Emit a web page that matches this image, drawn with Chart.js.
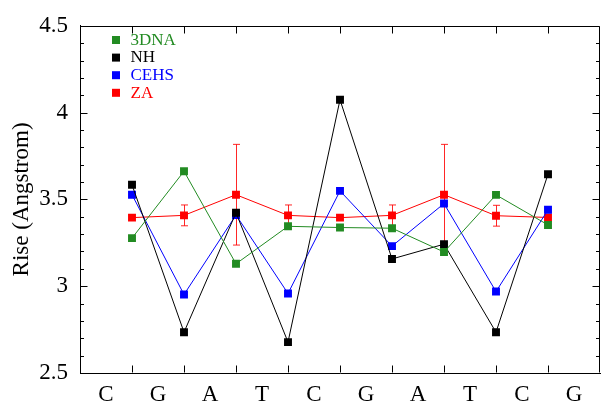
<!DOCTYPE html>
<html>
<head>
<meta charset="utf-8">
<script src="https://cdn.jsdelivr.net/npm/chart.js@4.4.1/dist/chart.umd.min.js"></script>
<style>
  html, body { margin: 0; padding: 0; background: #fff; overflow: hidden; }
  #wrap { width: 608px; height: 403px; }
</style>
</head>
<body>
<div id="wrap"><canvas id="c" width="608" height="403"></canvas></div>
<script>
// Bases along the sequence (tick labels sit between the step positions)
const bases = ['C', 'G', 'A', 'T', 'C', 'G', 'A', 'T', 'C', 'G'];
// Base-pair step positions (step k lies between base k and base k+1)
const steps = [1, 2, 3, 4, 5, 6, 7, 8, 9];
// Rise per step, in Angstrom
const rise3DNA = [3.277, 3.662, 3.129, 3.345, 3.338, 3.334, 3.197, 3.526, 3.353];
const riseNH   = [3.584, 2.735, 3.423, 2.678, 4.074, 3.157, 3.242, 2.735, 3.645];
const riseCEHS = [3.527, 2.952, 3.410, 2.958, 3.549, 3.231, 3.476, 2.969, 3.440];
const riseZA   = [3.395, 3.408, 3.527, 3.408, 3.395, 3.408, 3.527, 3.406, 3.396];
const errZA    = [0.0, 0.06, 0.29, 0.06, 0.0, 0.06, 0.29, 0.06, 0.0];
// Y axis tick labels
const yTickValues = [2.5, 3, 3.5, 4, 4.5];
const yTickLabels = ['2.5', '3', '3.5', '4', '4.5'];

const SERIF = "'Liberation Serif', 'DejaVu Serif', serif";

function pts(arr) { return arr.map((v, i) => ({ x: steps[i], y: v })); }

function series(label, values, color) {
  return {
    label: label,
    data: pts(values),
    borderColor: color,
    backgroundColor: color,
    borderWidth: 1,
    tension: 0,
    pointStyle: 'rect',
    pointRadius: 5.6,
    pointBorderWidth: 0,
    pointBackgroundColor: color,
    pointHoverRadius: 5.6
  };
}

// Vertical error bars with caps for the ZA series
const errorBars = {
  id: 'errorBars',
  beforeDatasetsDraw(chart) {
    const { ctx, scales: { x, y } } = chart;
    ctx.save();
    ctx.strokeStyle = 'rgba(255,0,0,0.85)';
    ctx.lineWidth = 1;
    riseZA.forEach((v, i) => {
      const e = errZA[i];
      if (!e) return;
      const px = Math.round(x.getPixelForValue(steps[i])) + 0.5;
      const top = y.getPixelForValue(v + e);
      const bot = y.getPixelForValue(v - e);
      ctx.beginPath();
      ctx.moveTo(px, top); ctx.lineTo(px, bot);
      ctx.moveTo(px - 3.5, top); ctx.lineTo(px + 3.5, top);
      ctx.moveTo(px - 3.5, bot); ctx.lineTo(px + 3.5, bot);
      ctx.stroke();
    });
    ctx.restore();
  }
};

// Frame with inward ticks on all four sides
const frame = {
  id: 'frame',
  afterDraw(chart) {
    const { ctx, chartArea: a, scales: { x, y } } = chart;
    ctx.save();
    ctx.strokeStyle = '#000';
    ctx.lineWidth = 1;
    const L = Math.round(a.left) + 0.5, R = Math.round(a.right) - 0.5;
    const T = Math.round(a.top) + 0.5, B = Math.round(a.bottom) - 0.5;
    ctx.beginPath();
    ctx.moveTo(L, T); ctx.lineTo(R, T);
    ctx.moveTo(R, T); ctx.lineTo(R, B);
    // y ticks: majors every 0.5, minors every 0.1
    for (let k = 0; k <= 20; k++) {
      const v = 2.5 + k * 0.1;
      const py = Math.round(y.getPixelForValue(v)) + 0.5;
      const len = (k % 5 === 0) ? 7 : 3.5;
      ctx.moveTo(L, py); ctx.lineTo(L + len, py);
      ctx.moveTo(R, py); ctx.lineTo(R - len, py);
    }
    // x ticks at each step
    steps.forEach(s => {
      const px = Math.round(x.getPixelForValue(s)) + 0.5;
      ctx.moveTo(px, B); ctx.lineTo(px, B - 7);
      ctx.moveTo(px, T); ctx.lineTo(px, T + 7);
    });
    ctx.stroke();
    ctx.restore();
  }
};

// Legend drawn inside the plot, upper left
const innerLegend = {
  id: 'innerLegend',
  afterDraw(chart) {
    const { ctx } = chart;
    ctx.save();
    ctx.font = '17px ' + SERIF;
    ctx.textBaseline = 'alphabetic';
    ctx.textAlign = 'left';
    chart.data.datasets.forEach((ds, i) => {
      const cy = 40 + i * 17.6;
      ctx.fillStyle = ds.borderColor;
      ctx.fillRect(112, cy - 4, 8, 8);
      ctx.fillText(ds.label, 130.5, cy + 4.8);
    });
    ctx.restore();
  }
};

new Chart(document.getElementById('c'), {
  type: 'line',
  data: {
    datasets: [
      series('3DNA', rise3DNA, 'rgb(34,139,34)'),
      series('NH', riseNH, '#000000'),
      series('CEHS', riseCEHS, '#0000ff'),
      series('ZA', riseZA, '#ff0000')
    ]
  },
  options: {
    responsive: false,
    animation: false,
    events: [],
    layout: { padding: { top: 22, right: 1, bottom: 0, left: 0 } },
    plugins: { legend: { display: false }, tooltip: { enabled: false } },
    scales: {
      x: {
        type: 'linear',
        position: 'bottom',
        min: 0,
        max: 10,
        afterFit(s) { s.height = 30; },
        grid: { display: false, drawTicks: false },
        border: { display: true, color: '#000', width: 1 },
        ticks: {
          stepSize: 0.5,
          autoSkip: false,
          maxRotation: 0,
          padding: 8,
          color: '#000',
          font: { family: SERIF, size: 23 },
          callback: v => Number.isInteger(v) ? '' : bases[Math.floor(v)]
        }
      },
      y: {
        min: 2.5,
        max: 4.5,
        afterFit(s) { s.width = 80; },
        grid: { display: false, drawTicks: false },
        border: { display: true, color: '#000', width: 1 },
        title: {
          display: true,
          text: 'Rise (Angstrom)',
          color: '#000',
          font: { family: SERIF, size: 23 },
          padding: { top: 8, bottom: 0 }
        },
        ticks: {
          stepSize: 0.5,
          padding: 12,
          color: '#000',
          font: { family: SERIF, size: 23 },
          callback: v => {
            const k = yTickValues.findIndex(t => Math.abs(t - v) < 1e-6);
            return k >= 0 ? yTickLabels[k] : '';
          }
        }
      }
    }
  },
  plugins: [errorBars, frame, innerLegend]
});
</script>
</body>
</html>
